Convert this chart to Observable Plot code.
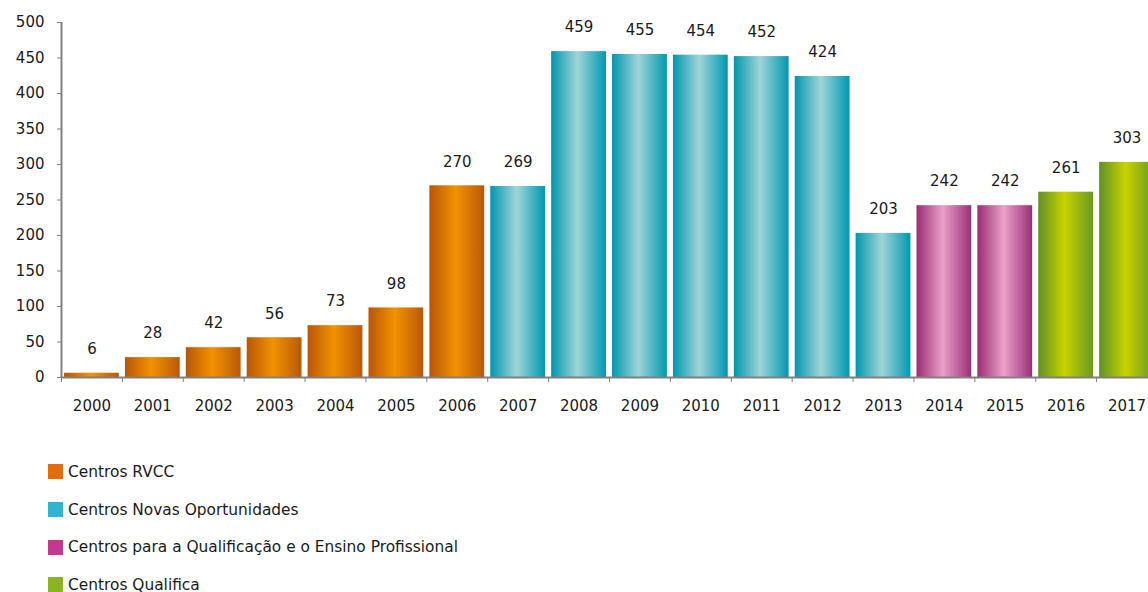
<!DOCTYPE html>
<html><head><meta charset="utf-8">
<script src="https://cdn.jsdelivr.net/npm/d3@7"></script>
<script src="https://cdn.jsdelivr.net/npm/@observablehq/plot@0.6"></script>
<style>
body{margin:0;background:#fff;font-family:"DejaVu Sans",sans-serif;}
#chart svg{display:block}
#legend{position:absolute;left:48px;top:453px;font-size:15.4px;color:#1a1a1a}
.row{height:37.7px;display:flex;align-items:center}
.sw{width:15px;height:15px;margin-right:5px}
</style></head>
<body>
<svg width="0" height="0" style="position:absolute">
  <defs id="defs"></defs>
</svg>
<div id="chart"></div>
<div id="legend"></div>
<script>
const years = ["2000","2001","2002","2003","2004","2005","2006","2007","2008","2009","2010","2011","2012","2013","2014","2015","2016","2017"];
const values = [6,28,42,56,73,98,270,269,459,455,454,452,424,203,242,242,261,303];
const groupOf = [0,0,0,0,0,0,0,1,1,1,1,1,1,1,2,2,3,3];
const groupNames = ["Centros RVCC","Centros Novas Oportunidades","Centros para a Qualificação e o Ensino Profissional","Centros Qualifica"];
const legendColors = ["#e46c0a","#2fb6cf","#c6388c","#8cb320"];
const gradEdgeLeft = ["#b85608","#0097ae","#9a2c73","#5e9024"];
const gradCenter = ["#f39200","#a0d5d7","#eaa0c8","#c8d300"];
const gradEdgeRight = ["#b95808","#0098b0","#9b2f78","#6a9a22"];
const yTicks = [0,50,100,150,200,250,300,350,400,450,500];

// gradients
const defs = document.getElementById("defs");
groupNames.forEach((g,i)=>{
  defs.insertAdjacentHTML("beforeend",
    `<linearGradient id="g${i}" x1="0" y1="0" x2="1" y2="0">
      <stop offset="0" stop-color="${gradEdgeLeft[i]}"/>
      <stop offset="0.48" stop-color="${gradCenter[i]}"/>
      <stop offset="1" stop-color="${gradEdgeRight[i]}"/>
    </linearGradient>`);
});

const data = years.map((y,i)=>({year:y, value:values[i], group:groupOf[i]}));
const xRange = [61, 1157];
const step = (xRange[1]-xRange[0])/18;

const chart = Plot.plot({
  width: 1148,
  height: 440,
  marginTop: 22,
  marginBottom: 63,
  marginLeft: 61,
  marginRight: 0,
  style: {fontFamily: '"DejaVu Sans", sans-serif', fontSize: "15px", color: "#1a1a1a"},
  x: {domain: years, range: xRange, paddingInner: 0.1, paddingOuter: 0.05, round: false},
  y: {domain: [0, 500]},
  marks: [
    ...groupNames.map((g,i)=>Plot.barY(data.filter(d=>d.group===i), {x:"year", y:"value", fill:`url(#g${i})`})),
    Plot.text(data, {x:"year", y:"value", text:d=>String(d.value), dy:-24, fontSize:15, fill:"#1a1a1a"}),
    Plot.ruleY([0], {stroke:"#808080", strokeWidth:2}),
    Plot.ruleX(["2000"], {dx:-step/2, y1:0, y2:500, stroke:"#808080", strokeWidth:2}),
    Plot.ruleX(years, {dx:-step/2, y1:0, y2:0, insetBottom:-5, stroke:"#808080", strokeWidth:1}),
    Plot.axisY({ticks: yTicks, tickSize: 4, tickPadding: 13, stroke:"#808080", fontSize:15, label:null}),
    Plot.axisX({tickSize: 0, tickPadding: 23, fontSize:15, label:null})
  ]
});
document.getElementById("chart").appendChild(chart);

const legend = document.getElementById("legend");
groupNames.forEach((g,i)=>{
  legend.insertAdjacentHTML("beforeend", `<div class="row"><div class="sw" style="background:${legendColors[i]}"></div><span>${g}</span></div>`);
});
</script>
</body></html>
